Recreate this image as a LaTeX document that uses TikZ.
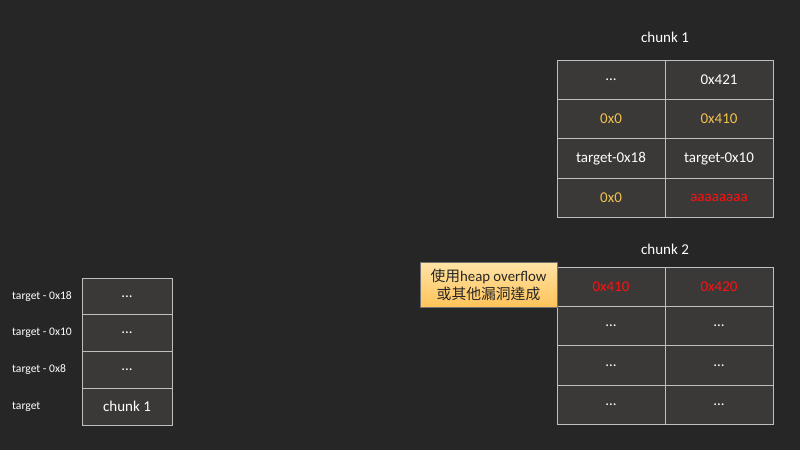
\documentclass[tikz,border=0pt]{standalone}
\usepackage{fontspec}
\setmainfont{Carlito}
\newfontfamily\cjk{Noto Sans CJK TC}
\usetikzlibrary{positioning}
\definecolor{bgdark}{HTML}{262626}
\definecolor{cellfill}{HTML}{3A3938}
\definecolor{cellline}{HTML}{BFBFBF}
\definecolor{valyellow}{HTML}{F2C14E}
\definecolor{valred}{HTML}{FF1010}
\definecolor{notetop}{HTML}{FFE3A6}
\definecolor{notebot}{HTML}{FFC45A}
\newcommand{\tdots}{...}
\tikzset{
  cell/.style={draw=cellline, fill=cellfill, line width=0.9pt, minimum width=108pt,
    minimum height=39.4pt, inner sep=0pt, text=white, font=\fontsize{15}{17}\selectfont},
  stackcell/.style={cell, minimum width=90pt, minimum height=36.8pt},
  yel/.style={text=valyellow},
  redv/.style={text=valred},
  title/.style={text=white, font=\fontsize{15}{17}\selectfont},
  addr/.style={text=white, anchor=west, inner sep=0pt, font=\fontsize{11.6}{13}\selectfont},
  note/.style={draw=black!55, top color=notetop, bottom color=notebot, line width=0.6pt,
    minimum width=137pt, minimum height=45pt, inner sep=0pt, align=center,
    text=black!85, font=\fontsize{14.8}{18}\selectfont}
}
\begin{document}
\begin{tikzpicture}[x=1pt,y=-1pt]
  \fill [bgdark] (0,0) rectangle (800,450);
  \useasboundingbox (0,0) rectangle (800,450);
  % chunk 1
  \node [title] (t1) at (665,37) {chunk 1};
  \node [cell] (c1a1) at (611,79.7) {\tdots};
  \node [cell] (c1b1) at (719,79.7) {0x421};
  \node [cell,yel] (c1a2) at (611,119.1) {0x0};
  \node [cell,yel] (c1b2) at (719,119.1) {0x410};
  \node [cell] (c1a3) at (611,158.5) {target-0x18};
  \node [cell] (c1b3) at (719,158.5) {target-0x10};
  \node [cell,yel] (c1a4) at (611,197.9) {0x0};
  \node [cell,redv] (c1b4) at (719,197.9) {aaaaaaaa};
  % chunk 2
  \node [title] (t2) at (665,249) {chunk 2};
  \node [cell,redv] (c2a1) at (611,286.7) {0x410};
  \node [cell,redv] (c2b1) at (719,286.7) {0x420};
  \foreach \r/\yy in {2/326.1,3/365.5,4/404.9}{
    \node [cell] (c2a\r) at (611,\yy) {\tdots};
    \node [cell] (c2b\r) at (719,\yy) {\tdots};
  }
  % note
  \node [note] (hint) at (488.5,284.5) {{\cjk 使用}heap overflow\\{\cjk 或其他漏洞達成}};
  % target stack
  \foreach \r/\yy/\lab/\txt in {1/296.4/target - 0x18/\tdots,2/333.2/target - 0x10/\tdots,
      3/370/target - 0x8/\tdots,4/406.8/target/chunk 1}{
    \node [stackcell] (s\r) at (127,\yy) {\txt};
    \node [addr] (l\r) at (12,\yy) {\lab};
  }
\end{tikzpicture}
\end{document}
